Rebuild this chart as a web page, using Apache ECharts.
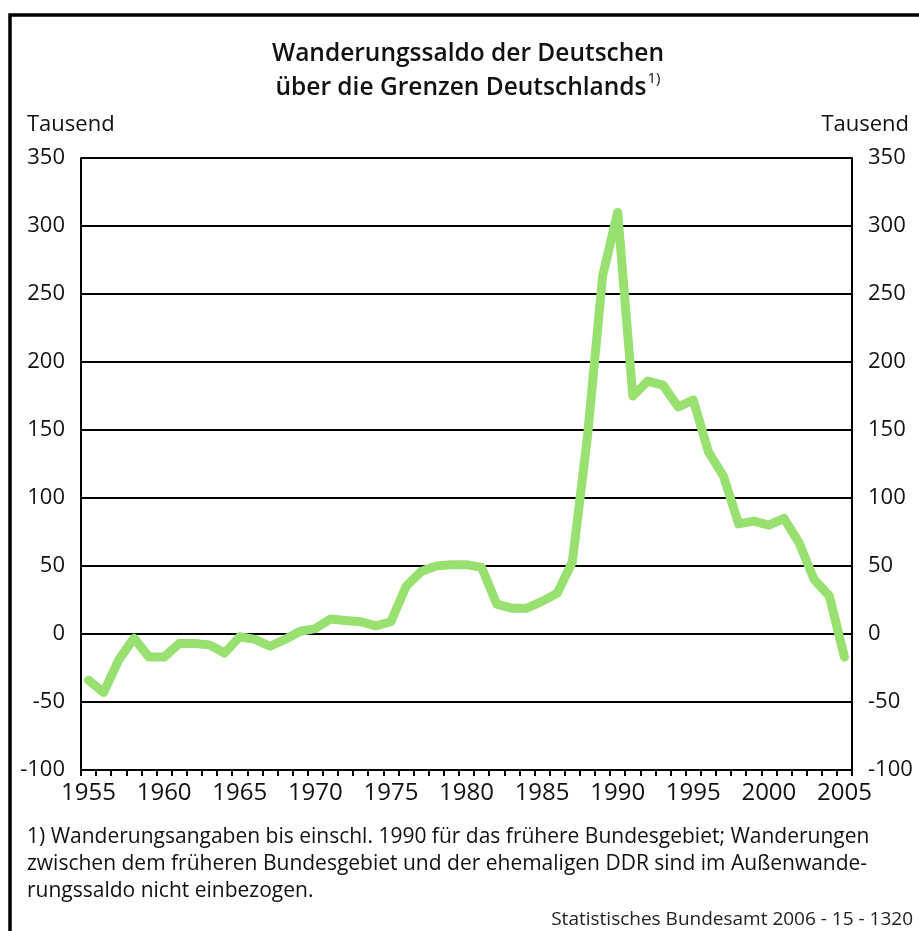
<!DOCTYPE html>
<html>
<head>
<meta charset="utf-8">
<script src="https://cdn.jsdelivr.net/npm/echarts@6/dist/echarts.min.js"></script>
<style>
  html, body { margin: 0; padding: 0; background: #fff; }
  #main { width: 919px; height: 931px; }
</style>
</head>
<body>
<div id="main"></div>
<script>
var years = ['1955', '1956', '1957', '1958', '1959', '1960', '1961', '1962', '1963', '1964',
  '1965', '1966', '1967', '1968', '1969', '1970', '1971', '1972', '1973', '1974',
  '1975', '1976', '1977', '1978', '1979', '1980', '1981', '1982', '1983', '1984',
  '1985', '1986', '1987', '1988', '1989', '1990', '1991', '1992', '1993', '1994',
  '1995', '1996', '1997', '1998', '1999', '2000', '2001', '2002', '2003', '2004', '2005'];

// Wanderungssaldo der Deutschen, Tausend
var saldo = [-34, -43, -19, -3, -17, -17, -7, -7, -8, -14,
  -2, -4, -9, -4, 2, 4, 11, 10, 9, 6,
  9, 35, 46, 50, 51, 51, 49, 22, 19, 19,
  24, 30, 53, 145, 263, 310, 175, 186, 183, 167,
  172, 134, 116, 81, 83, 80, 85, 67, 40, 28, -17];

var yTicks = [-100, -50, 0, 50, 100, 150, 200, 250, 300, 350];

var chartDom = document.getElementById('main');
var myChart = echarts.init(chartDom);
var option;

var font = '"Open Sans", "Noto Sans", sans-serif';

function yAxisDef(pos) {
  return {
    type: 'value',
    position: pos,
    min: yTicks[0],
    max: yTicks[yTicks.length - 1],
    interval: 50,
    axisLine: { show: true, lineStyle: { color: '#000', width: 2 } },
    axisTick: { show: false },
    axisLabel: { color: '#111', fontSize: 22, fontFamily: font, margin: 16 },
    splitLine: { show: pos === 'left', lineStyle: { color: '#000', width: 2 } }
  };
}

option = {
  backgroundColor: '#fff',
  animation: false,
  grid: {
    left: 81,
    right: 67,
    top: 158,
    bottom: 161
  },
  xAxis: {
    type: 'category',
    data: years,
    boundaryGap: true,
    axisLine: { onZero: false, lineStyle: { color: '#000', width: 2 } },
    axisTick: { show: true, interval: 0, length: 6, lineStyle: { color: '#000', width: 2 } },
    axisLabel: {
      interval: 4,
      color: '#111',
      fontSize: 24,
      fontFamily: font,
      margin: 11
    }
  },
  yAxis: [yAxisDef('left'), yAxisDef('right')],
  series: [
    {
      name: 'Wanderungssaldo',
      type: 'line',
      data: saldo,
      symbol: 'none',
      lineStyle: { color: '#98e06f', width: 9, join: 'round', cap: 'round' },
      z: 5
    }
  ],
  graphic: [
    {
      type: 'rect',
      z: -10,
      silent: true,
      shape: { x: 10, y: 15, width: 1000, height: 1000 },
      style: { fill: 'none', stroke: '#000', lineWidth: 3.5 }
    },
    {
      type: 'text',
      x: 468,
      y: 37,
      style: {
        text: 'Wanderungssaldo der Deutschen\nüber die Grenzen Deutschlands{sup|1)}',
        align: 'center',
        fontSize: 24.5,
        fontWeight: 600,
        fontFamily: font,
        lineHeight: 34,
        fill: '#111',
        rich: {
          sup: { fontSize: 15, fontFamily: font, verticalAlign: 'top', lineHeight: 34, padding: [0, 0, 16, 1] }
        }
      }
    },
    {
      type: 'text',
      x: 27,
      y: 114,
      style: { text: 'Tausend', fontSize: 22, fontFamily: font, fill: '#111' }
    },
    {
      type: 'text',
      x: 909,
      y: 114,
      style: { text: 'Tausend', align: 'right', fontSize: 22, fontFamily: font, fill: '#111' }
    },
    {
      type: 'text',
      x: 27,
      y: 824,
      style: {
        text: '1) Wanderungsangaben bis einschl. 1990 für das frühere Bundesgebiet; Wanderungen\n' +
          'zwischen dem früheren Bundesgebiet und der ehemaligen DDR sind im Außenwande-\n' +
          'rungssaldo nicht einbezogen.',
        fontSize: 21,
        lineHeight: 27,
        fontFamily: font,
        fill: '#111'
      }
    },
    {
      type: 'text',
      x: 913,
      y: 910,
      style: { text: 'Statistisches Bundesamt 2006 - 15 - 1320', align: 'right', fontSize: 19, fontFamily: font, fill: '#222' }
    }
  ]
};

option && myChart.setOption(option);
</script>
</body>
</html>
